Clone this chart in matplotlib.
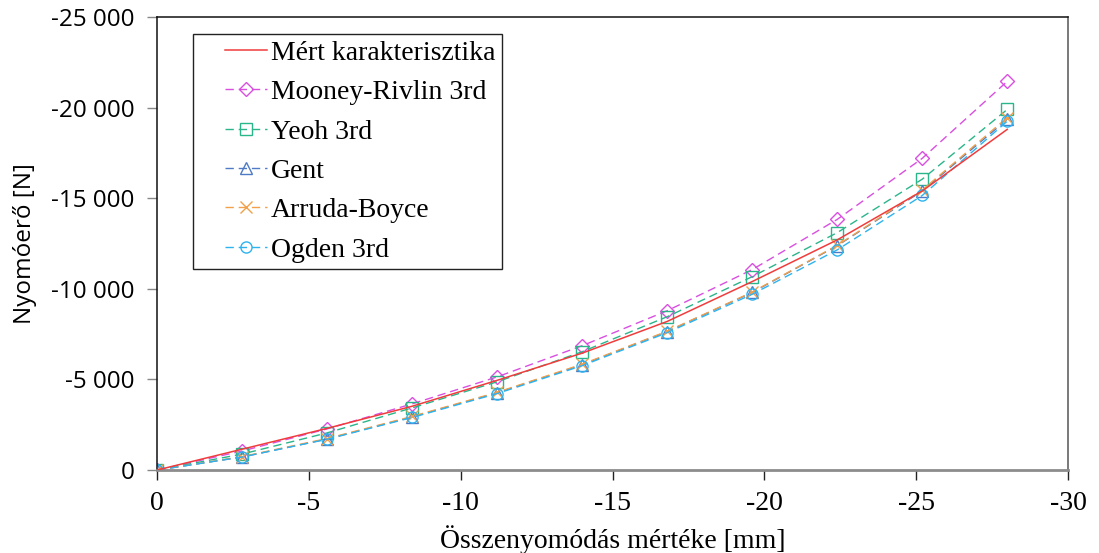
import numpy as np
import matplotlib
matplotlib.use("Agg")
import matplotlib.pyplot as plt
from matplotlib.lines import Line2D
from matplotlib.legend_handler import HandlerLine2D
from matplotlib.ticker import FuncFormatter, MultipleLocator

# compression [mm]
elmozdulas = [0, -2.8, -5.6, -8.4, -11.2, -14.0, -16.8, -19.6, -22.4, -25.2, -28.0]

# force [N]
mert = [0, -1150, -2300, -3520, -4950, -6450, -8200, -10400, -12700, -15400, -18800]
mooney_rivlin = [0, -1050, -2270, -3650, -5140, -6860, -8790, -11060, -13830, -17200, -21450]
yeoh = [0, -880, -2050, -3430, -4870, -6530, -8460, -10670, -13100, -16050, -19900]
gent = [0, -720, -1710, -2930, -4260, -5810, -7640, -9800, -12380, -15400, -19350]
arruda_boyce = [0, -740, -1740, -2960, -4290, -5840, -7660, -9820, -12400, -15450, -19450]
ogden = [0, -720, -1700, -2900, -4220, -5760, -7580, -9700, -12150, -15150, -19250]

modellek = [
    ("Mooney-Rivlin 3rd", mooney_rivlin, "#D94FE0", "D"),
    ("Yeoh 3rd", yeoh, "#2BB58A", "s"),
    ("Gent", gent, "#4F7BC6", "^"),
    ("Arruda-Boyce", arruda_boyce, "#F2A04A", "x"),
    ("Ogden 3rd", ogden, "#2DB3EE", "o"),
]

serif = "Liberation Serif"
sans = "Open Sans"

fig = plt.figure(figsize=(10.99, 5.53), dpi=100)
ax = fig.add_axes([0.1429, 0.150, 0.8289, 0.8193])

ax.plot(elmozdulas, mert, color="#F03C3C", lw=1.1, label="Mért karakterisztika", zorder=3)
for nev, ertek, szin, jel in modellek:
    ms = 8 if jel != "D" else 7
    ax.plot(elmozdulas, ertek, color=szin, lw=1.0, dashes=(6, 3.5), marker=jel,
            markersize=ms, markerfacecolor="none", markeredgecolor=szin,
            markeredgewidth=1.0, label=nev)

ax.xaxis.set_major_locator(MultipleLocator(5))
ax.yaxis.set_major_locator(MultipleLocator(5000))
ax.set_xlim(0, -30)
ax.set_ylim(0, -25000)

def ezres(v, pos):
    return "{:,.0f}".format(v).replace(",", " ")

ax.yaxis.set_major_formatter(FuncFormatter(ezres))
ax.xaxis.set_major_formatter(FuncFormatter(lambda v, p: "{:.0f}".format(v)))

for lab in ax.get_yticklabels():
    lab.set_fontfamily(sans)
    lab.set_fontsize(17.5)
for lab in ax.get_xticklabels():
    lab.set_fontfamily(serif)
    lab.set_fontsize(20)

ax.tick_params(axis="y", direction="out", length=7, width=1, color="#888888", pad=9)
ax.tick_params(axis="x", direction="out", length=7, width=1, color="#222222", pad=8)

ax.spines["bottom"].set_color("#8c8c8c")
ax.spines["bottom"].set_linewidth(2)
ax.spines["left"].set_color("#111111")
ax.spines["top"].set_color("#111111")
ax.spines["right"].set_color("#555555")
for s in ("left", "top", "right"):
    ax.spines[s].set_linewidth(1.1)

ax.set_xlabel("Összenyomódás mértéke [mm]", fontfamily=serif, fontsize=20, labelpad=7)
ax.set_ylabel("Nyomóerő [N]", fontfamily=sans, fontsize=17.5, labelpad=10)

# legend lines are indented inside the handle box
leg = ax.legend(loc="upper left", bbox_to_anchor=(0.039, 0.963), frameon=True,
                fancybox=False, edgecolor="#222222", framealpha=1,
                prop={"family": serif, "size": 20}, handlelength=2.44,
                handletextpad=0.15, labelspacing=0.5, borderpad=0.24,
                borderaxespad=0,
                handler_map={Line2D: HandlerLine2D(xpad=0.93)})
leg.get_frame().set_linewidth(1.0)

fig.savefig("out.png", dpi=100)
